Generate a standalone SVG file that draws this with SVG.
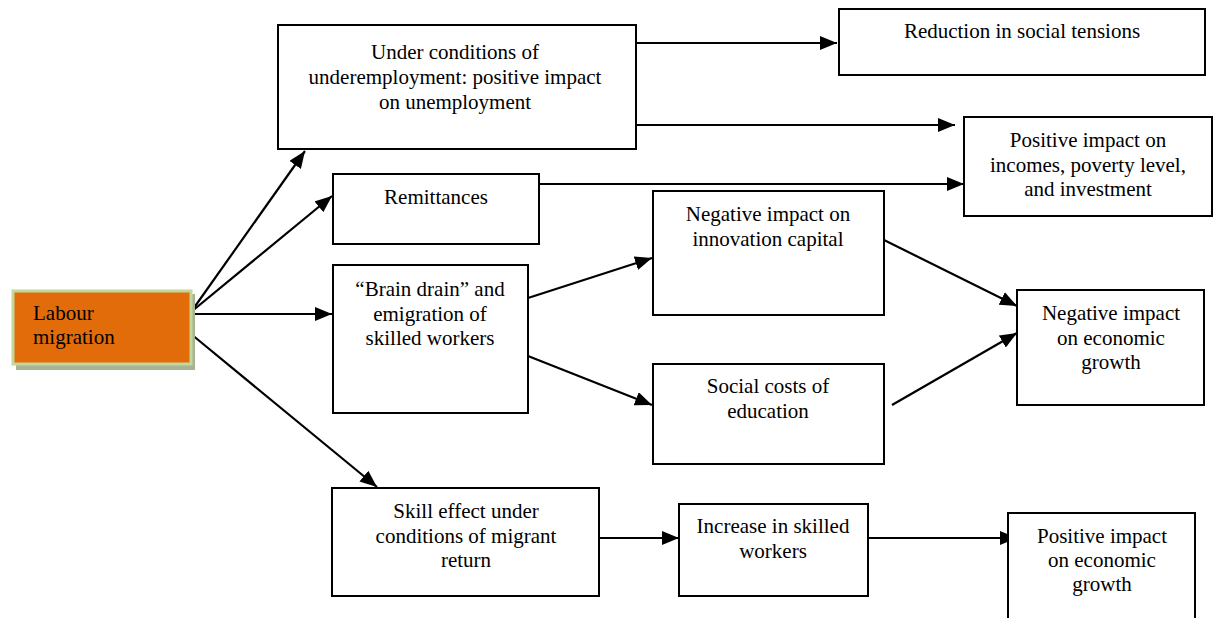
<svg xmlns="http://www.w3.org/2000/svg" width="1213" height="618" viewBox="0 0 1213 618">
<style>
.box{fill:#fff;stroke:#000;stroke-width:2}
text{font-family:'Liberation Serif','Times New Roman',Times,'DejaVu Serif',serif;font-size:21px;fill:#000}
.t{text-anchor:middle}
.c{stroke:#000;stroke-width:2.2;fill:none;marker-end:url(#ah)}
</style>
<defs>
<marker id="ah" markerUnits="userSpaceOnUse" markerWidth="18" markerHeight="14" refX="17" refY="7" orient="auto">
<path d="M0,0 L17,7 L0,14 z" fill="#000"/>
</marker>
</defs>
<rect width="1213" height="618" fill="#fff"/>
<g id="connectors">
<line class="c" x1="191" y1="312" x2="305" y2="151"/>
<line class="c" x1="191" y1="312" x2="332" y2="196"/>
<line class="c" x1="191" y1="314" x2="332" y2="314"/>
<line class="c" x1="191" y1="334" x2="377" y2="487"/>
<line class="c" x1="637" y1="43" x2="837" y2="43"/>
<line class="c" x1="637" y1="125" x2="955" y2="125"/>
<line class="c" x1="539" y1="184" x2="964" y2="184"/>
<line class="c" x1="528" y1="298" x2="652" y2="258"/>
<line class="c" x1="528" y1="356" x2="652" y2="405"/>
<line class="c" x1="884" y1="240" x2="1017" y2="306"/>
<line class="c" x1="892" y1="405" x2="1017" y2="333"/>
<line class="c" x1="599" y1="538" x2="679" y2="538"/>
<line class="c" x1="868" y1="538" x2="1017" y2="538"/>
</g>
<g id="labour">
<rect x="16" y="294" width="179" height="76" fill="#a7b493"/>
<rect x="13" y="291" width="178" height="73" fill="#e36c0a" stroke="#c3d69b" stroke-width="3"/>
<text x="33" y="320" font-family="Liberation Serif, serif">Labour</text>
<text x="33" y="344" font-family="Liberation Serif, serif">migration</text>
</g>
<g id="underemployment">
<rect class="box" x="278" y="25" width="358" height="124"/>
<text class="t" x="455" y="59">Under conditions of</text>
<text class="t" x="455" y="84">underemployment: positive impact</text>
<text class="t" x="455" y="109">on unemployment</text>
</g>
<g id="reduction">
<rect class="box" x="839" y="9" width="366" height="66"/>
<text class="t" x="1022" y="38">Reduction in social tensions</text>
</g>
<g id="positive-incomes">
<rect class="box" x="964" y="117" width="248" height="99"/>
<text class="t" x="1088" y="147">Positive impact on</text>
<text class="t" x="1088" y="172">incomes, poverty level,</text>
<text class="t" x="1088" y="196">and investment</text>
</g>
<g id="remittances">
<rect class="box" x="333" y="174" width="206" height="70"/>
<text class="t" x="436" y="204">Remittances</text>
</g>
<g id="brain-drain">
<rect class="box" x="333" y="265" width="195" height="148"/>
<text class="t" x="430" y="296">“Brain drain” and</text>
<text class="t" x="430" y="321">emigration of</text>
<text class="t" x="430" y="345">skilled workers</text>
</g>
<g id="innovation">
<rect class="box" x="653" y="191" width="231" height="124"/>
<text class="t" x="768" y="221">Negative impact on</text>
<text class="t" x="768" y="246">innovation capital</text>
</g>
<g id="social-costs">
<rect class="box" x="653" y="364" width="231" height="100"/>
<text class="t" x="768" y="393">Social costs of</text>
<text class="t" x="768" y="418">education</text>
</g>
<g id="negative-growth">
<rect class="box" x="1017" y="290" width="187" height="115"/>
<text class="t" x="1111" y="320">Negative impact</text>
<text class="t" x="1111" y="345">on economic</text>
<text class="t" x="1111" y="369">growth</text>
</g>
<g id="skill-effect">
<rect class="box" x="332" y="488" width="267" height="108"/>
<text class="t" x="466" y="518">Skill effect under</text>
<text class="t" x="466" y="543">conditions of migrant</text>
<text class="t" x="466" y="567">return</text>
</g>
<g id="increase">
<rect class="box" x="679" y="504" width="189" height="92"/>
<text class="t" x="773" y="533">Increase in skilled</text>
<text class="t" x="773" y="558">workers</text>
</g>
<g id="positive-growth">
<rect class="box" x="1008" y="513" width="187" height="115"/>
<text class="t" x="1102" y="543">Positive impact</text>
<text class="t" x="1102" y="567">on economic</text>
<text class="t" x="1102" y="591">growth</text>
</g>
</svg>
